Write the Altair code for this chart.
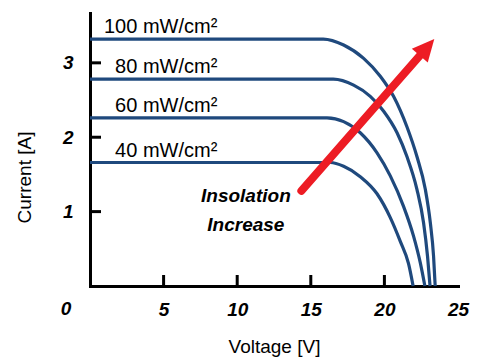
import math
import altair as alt
import pandas as pd

# ---- data ----
series_labels = ["100 mW/cm²", "80 mW/cm²", "60 mW/cm²", "40 mW/cm²"]

v_100 = [0.0, 15.85, 17.23, 18.59, 19.72, 20.62, 21.53, 22.21, 22.78, 23.12, 23.34, 23.45]
i_100 = [3.32, 3.32, 3.24, 3.06, 2.82, 2.55, 2.14, 1.74, 1.30, 0.85, 0.40, 0.0]

v_80 = [0.0, 16.53, 17.91, 19.04, 19.95, 20.86, 21.53, 22.21, 22.66, 22.93, 23.10]
i_80 = [2.78, 2.78, 2.70, 2.55, 2.35, 2.06, 1.74, 1.30, 0.85, 0.40, 0.0]

v_60 = [0.0, 16.10, 17.23, 18.36, 19.50, 20.40, 21.30, 21.98, 22.44, 22.75]
i_60 = [2.26, 2.26, 2.21, 2.06, 1.79, 1.48, 1.07, 0.67, 0.31, 0.0]

v_40 = [0.0, 16.33, 17.23, 18.36, 19.50, 20.40, 21.08, 21.64, 21.95]
i_40 = [1.66, 1.66, 1.61, 1.47, 1.24, 0.92, 0.60, 0.30, 0.0]

x_tick_values = [5, 10, 15, 20]
x_label_values = [5, 10, 15, 20, 25]
y_tick_values = [1, 2, 3]

arrow_tail = (14.36, 1.28)
arrow_tip = (23.39, 3.32)
annotation_lines = ["Insolation", "Increase"]

# ---- layout ----
W, H = 368, 273
XMAX, YMAX = 25, 3.67
PXV = W / XMAX
PXI = H / YMAX
BLUE = "#1F497D"
RED = "#ED1C24"
FONT = "Liberation Sans"

xs = alt.Scale(domain=[0, XMAX], nice=False, zero=False)
ys = alt.Scale(domain=[0, YMAX], nice=False, zero=False)

X_AXIS = alt.Axis(
    values=x_label_values, title="Voltage [V]", ticks=False, grid=False,
    domainColor="black", domainWidth=3, domainCap="square",
    labelFont=FONT, labelFontSize=19, labelFontWeight="bold", labelFontStyle="italic",
    labelColor="black", labelPadding=14, labelFlush=False,
    titleFont=FONT, titleFontSize=19, titleFontWeight="normal", titleColor="black",
    titleBaseline="alphabetic", titleY=66, titleX=W / 2)
Y_AXIS = alt.Axis(
    values=y_tick_values, title="Current [A]", ticks=False, grid=False,
    domainColor="black", domainWidth=3, domainCap="square",
    labelFont=FONT, labelFontSize=19, labelFontWeight="bold", labelFontStyle="italic",
    labelColor="black", labelPadding=17, labelFlush=False,
    titleFont=FONT, titleFontSize=19, titleFontWeight="normal", titleColor="black",
    titleAngle=270, titleBaseline="middle", titleAlign="center",
    titleX=-66, titleY=164)


def X(field):
    return alt.X(field, scale=xs, axis=X_AXIS, title="Voltage [V]")


def Y(field):
    return alt.Y(field, scale=ys, axis=Y_AXIS, title="Current [A]")


rows = []
for lab, vv, ii in [(series_labels[0], v_100, i_100), (series_labels[1], v_80, i_80),
                    (series_labels[2], v_60, i_60), (series_labels[3], v_40, i_40)]:
    for k, (v, i) in enumerate(zip(vv, ii)):
        rows.append({"series": lab, "V": v, "I": i, "k": k})
curves_df = pd.DataFrame(rows)

curves = alt.Chart(curves_df).mark_line(
    color=BLUE, strokeWidth=3.2, interpolate="monotone"
).encode(
    x=X("V:Q"),
    y=Y("I:Q"),
    detail="series:N",
    order="k:Q",
)

# inward tick marks
tick_len_px = 11
xt_df = pd.DataFrame({"V": x_tick_values})
xt_df["y0"] = 0.0
xt_df["y1"] = tick_len_px / PXI
x_ticks = alt.Chart(xt_df).mark_rule(color="black", strokeWidth=3).encode(
    x=X("V:Q"),
    y=Y("y0:Q"),
    y2="y1:Q",
)
yt_df = pd.DataFrame({"I": y_tick_values})
yt_df["x0"] = 0.0
yt_df["x1"] = tick_len_px / PXV
y_ticks = alt.Chart(yt_df).mark_rule(color="black", strokeWidth=3).encode(
    y=Y("I:Q"),
    x=X("x0:Q"),
    x2="x1:Q",
)

# origin label
zero_df = pd.DataFrame({"t": ["0"], "V": [0.0], "I": [0.0]})
zero_label = alt.Chart(zero_df).mark_text(
    font=FONT, fontSize=19, fontWeight="bold", fontStyle="italic", color="black",
    dx=-24, dy=23, align="center", baseline="middle",
).encode(x=X("V:Q"), y=Y("I:Q"), text="t:N")

# curve labels
isc = [i_100[0], i_80[0], i_60[0], i_40[0]]
lab_df = pd.DataFrame({"label": series_labels, "I": isc})
lab_df["V"] = 8.65
curve_labels = alt.Chart(lab_df).mark_text(
    font=FONT, fontSize=20, color="black", align="right", baseline="alphabetic", dy=-6,
).encode(
    x=X("V:Q"),
    y=Y("I:Q"),
    text="label:N",
)

# arrow
dxp = (arrow_tip[0] - arrow_tail[0]) * PXV
dyp = (arrow_tip[1] - arrow_tail[1]) * PXI
Lp = math.hypot(dxp, dyp)
angle = math.degrees(math.atan2(dxp, dyp))
head_len = 22.0
back = head_len - 4
shaft_end = (arrow_tip[0] - dxp / Lp * back / PXV, arrow_tip[1] - dyp / Lp * back / PXI)
shaft_df = pd.DataFrame({"V": [arrow_tail[0], shaft_end[0]], "I": [arrow_tail[1], shaft_end[1]], "k": [0, 1]})
shaft = alt.Chart(shaft_df).mark_line(color=RED, strokeWidth=8, strokeCap="round").encode(
    x=X("V:Q"),
    y=Y("I:Q"),
    order="k:Q",
)
head_df = pd.DataFrame({"V": [arrow_tip[0]], "I": [arrow_tip[1]]})
head = alt.Chart(head_df).mark_point(
    shape="M0,0L-0.48,1L0.48,1Z", filled=True, color=RED, opacity=1,
    size=(2 * head_len) ** 2, angle=angle, strokeWidth=0,
).encode(
    x=X("V:Q"),
    y=Y("I:Q"),
)

# annotation
ann_df = pd.DataFrame({"t": annotation_lines, "I": [1.215, 0.826]})
ann_df["V"] = 10.59
annotation = alt.Chart(ann_df).mark_text(
    font=FONT, fontSize=19, fontWeight="bold", fontStyle="italic", color="black",
    align="center", baseline="middle",
).encode(
    x=X("V:Q"),
    y=Y("I:Q"),
    text="t:N",
)

chart = alt.layer(
    curves, x_ticks, y_ticks, zero_label, curve_labels, shaft, head, annotation
).properties(
    width=W, height=H,
    autosize=alt.AutoSizeParams(type="none"),
    padding={"left": 90, "top": 13, "right": 19, "bottom": 72},
    background="white",
).configure_view(stroke=None)

chart.save("out.html", embed_options={"renderer": "svg", "actions": False})
